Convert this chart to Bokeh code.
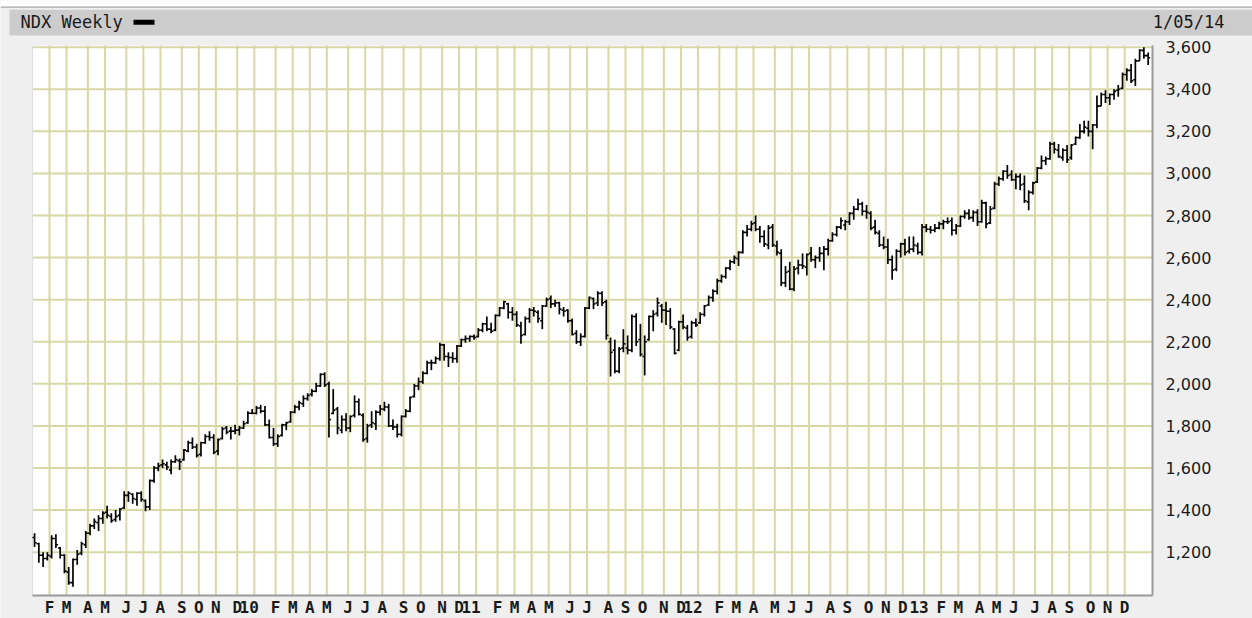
import pandas as pd
from bokeh.plotting import figure
from bokeh.models import Range1d, ColumnDataSource
from bokeh.embed import file_html
from bokeh.resources import INLINE
from bokeh.core.properties import value

# ---------------- data: NDX weekly OHLC, week of 2009-01-05 onward ----------------
first_week = "2009-01-05"

opens = [
    1270, 1240, 1185, 1170, 1180, 1265, 1220, 1185, 1105, 1055, 1165, 1195, 1235,
    1290, 1325, 1340, 1360, 1390, 1370, 1355, 1375, 1410, 1470, 1475, 1450, 1480,
    1445, 1415, 1540, 1600, 1615, 1615, 1590, 1630, 1635, 1640, 1680, 1720, 1700,
    1665, 1720, 1750, 1745, 1680, 1740, 1790, 1775, 1775, 1780, 1790, 1815, 1860,
    1860, 1885, 1870, 1805, 1745, 1715, 1755, 1805, 1820, 1865, 1890, 1905, 1930,
    1950, 1965, 1990, 2045, 2000, 1860, 1880, 1780, 1830, 1790, 1850, 1915, 1850,
    1740, 1805, 1810, 1865, 1880, 1890, 1800, 1795, 1760, 1845, 1870, 1940, 1990,
    2010, 2050, 2100, 2100, 2120, 2185, 2130, 2125, 2120, 2180, 2210, 2215, 2225,
    2225, 2255, 2285, 2260, 2255, 2325, 2360, 2380, 2340, 2330, 2275, 2235, 2310,
    2350, 2340, 2300, 2370, 2405, 2380, 2385, 2350, 2350, 2300, 2240, 2200, 2225,
    2360, 2405, 2385, 2430, 2390, 2200, 2160, 2060, 2170, 2170, 2160, 2320, 2210,
    2130, 2210, 2320, 2335, 2370, 2350, 2345, 2260, 2160, 2295, 2265, 2225, 2290,
    2290, 2330, 2375, 2410, 2440, 2490, 2510, 2550, 2580, 2595, 2625, 2720, 2735,
    2765, 2735, 2700, 2660, 2745, 2655, 2620, 2480, 2535, 2450, 2550, 2565, 2555,
    2620, 2590, 2600, 2620, 2640, 2680, 2710, 2745, 2755, 2770, 2810, 2830, 2855,
    2820, 2810, 2745, 2715, 2660, 2650, 2590, 2545, 2630, 2665, 2630, 2640, 2655,
    2625,
    2745, 2735, 2730, 2740, 2760, 2770, 2775, 2730, 2750, 2795, 2810, 2790, 2815,
    2770, 2860, 2765, 2835, 2950, 2975, 3010, 2995, 2970, 2985, 2950, 2865, 2910,
    2960, 3025, 3060, 3070, 3140, 3110, 3075, 3110, 3075, 3140, 3170, 3200, 3215,
    3200, 3230, 3320, 3375, 3360, 3375, 3395, 3405, 3470, 3490, 3445, 3535, 3585,
    3560,
]

highs = [
    1290, 1245, 1200, 1200, 1280, 1285, 1225, 1190, 1130, 1170, 1210, 1250, 1300,
    1335, 1360, 1375, 1395, 1420, 1385, 1400, 1410, 1490, 1490, 1480, 1485, 1490,
    1450, 1545, 1610, 1625, 1640, 1630, 1640, 1660, 1645, 1690, 1730, 1745, 1715,
    1725, 1760, 1775, 1760, 1740, 1795, 1800, 1795, 1805, 1800, 1825, 1870, 1880,
    1895, 1900, 1895, 1830, 1790, 1760, 1810, 1820, 1870, 1900, 1920, 1945, 1955,
    1975, 2005, 2050, 2055, 2010, 1975, 1890, 1850, 1860, 1850, 1945, 1930, 1860,
    1810, 1870, 1875, 1900, 1915, 1905, 1830, 1810, 1850, 1880, 1940, 2000, 2030,
    2060, 2110, 2115, 2130, 2195, 2190, 2150, 2150, 2185, 2215, 2230, 2230, 2235,
    2265, 2290, 2320, 2290, 2330, 2365, 2395, 2385, 2365, 2345, 2295, 2320, 2360,
    2365, 2350, 2375, 2410, 2420, 2400, 2390, 2365, 2355, 2310, 2255, 2240, 2365,
    2415, 2410, 2440, 2440, 2400, 2220, 2210, 2175, 2260, 2230, 2330, 2335, 2285,
    2230, 2325, 2350, 2410, 2380, 2390, 2360, 2265, 2300, 2330, 2280, 2300, 2310,
    2340, 2375, 2420, 2450, 2500, 2520, 2555, 2590, 2610, 2630, 2730, 2755, 2775,
    2800, 2750, 2730, 2755, 2760, 2680, 2640, 2560, 2580, 2560, 2590, 2620, 2620,
    2650, 2610, 2650, 2655, 2690, 2720, 2750, 2790, 2780, 2815, 2845, 2880, 2865,
    2850, 2820, 2780, 2730, 2700, 2690, 2610, 2640, 2670, 2690, 2700, 2700, 2670,
    2760,
    2760, 2750, 2760, 2770, 2780, 2790, 2790, 2760, 2800, 2825, 2830, 2825, 2830,
    2875, 2865, 2845, 2960, 2985, 3015, 3040, 3015, 3000, 3000, 2990, 2920, 2960,
    3030, 3085, 3080, 3150, 3150, 3140, 3120, 3135, 3140, 3175, 3235, 3250, 3250,
    3235, 3370, 3385, 3395, 3380, 3400, 3420, 3480, 3500, 3520, 3545, 3590, 3600,
    3575,
]

lows = [
    1225, 1150, 1130, 1160, 1170, 1220, 1170, 1100, 1045, 1035, 1140, 1185, 1220,
    1280, 1310, 1300, 1335, 1360, 1340, 1345, 1350, 1405, 1440, 1430, 1420, 1440,
    1395, 1400, 1530, 1585, 1600, 1590, 1570, 1625, 1590, 1635, 1675, 1690, 1650,
    1655, 1715, 1730, 1665, 1660, 1735, 1760, 1735, 1760, 1755, 1785, 1810, 1855,
    1855, 1860, 1800, 1740, 1705, 1700, 1750, 1780, 1815, 1860, 1875, 1890, 1920,
    1940, 1960, 1985, 1985, 1745, 1855, 1760, 1765, 1775, 1770, 1840, 1850, 1725,
    1720, 1790, 1780, 1850, 1870, 1795, 1780, 1745, 1750, 1840, 1865, 1935, 1970,
    2000, 2045, 2065, 2095, 2110, 2110, 2080, 2100, 2100, 2175, 2195, 2200, 2210,
    2220, 2245, 2250, 2240, 2250, 2320, 2355, 2310, 2300, 2270, 2190, 2230, 2290,
    2320, 2290, 2260, 2365, 2360, 2365, 2330, 2320, 2290, 2230, 2190, 2180, 2220,
    2355, 2355, 2370, 2370, 2210, 2035, 2050, 2050, 2150, 2140, 2150, 2180, 2130,
    2040, 2205, 2250, 2320, 2290, 2280, 2260, 2140, 2155, 2260, 2205, 2215, 2270,
    2285, 2320, 2370, 2390, 2425, 2480, 2500, 2540, 2570, 2560, 2620, 2700, 2725,
    2725, 2670, 2650, 2640, 2650, 2610, 2465, 2460, 2445, 2440, 2520, 2545, 2515,
    2580, 2550, 2580, 2540, 2610, 2675, 2700, 2735, 2730, 2755, 2780, 2825, 2800,
    2785, 2730, 2710, 2650, 2640, 2570, 2495, 2535, 2600, 2610, 2620, 2625, 2615,
    2610,
    2720, 2715, 2720, 2735, 2735, 2760, 2705, 2710, 2745, 2785, 2780, 2770, 2750,
    2765, 2740, 2760, 2830, 2940, 2965, 2975, 2965, 2925, 2920, 2860, 2825, 2900,
    2955, 3020, 3040, 3065, 3095, 3075, 3060, 3050, 3065, 3135, 3165, 3190, 3175,
    3115, 3215, 3320, 3335, 3325, 3350, 3365, 3400, 3440, 3430, 3415, 3535, 3545,
    3515,
]

closes = [
    1245, 1185, 1170, 1185, 1265, 1235, 1185, 1110, 1055, 1165, 1190, 1240, 1290,
    1325, 1345, 1360, 1385, 1375, 1350, 1370, 1405, 1470, 1480, 1455, 1480, 1450,
    1415, 1540, 1600, 1610, 1620, 1605, 1630, 1640, 1630, 1685, 1720, 1700, 1660,
    1720, 1750, 1745, 1675, 1735, 1785, 1770, 1775, 1780, 1790, 1810, 1860, 1860,
    1885, 1870, 1805, 1745, 1715, 1750, 1805, 1815, 1865, 1890, 1910, 1930, 1945,
    1965, 1990, 2045, 1995, 1830, 1875, 1790, 1830, 1790, 1845, 1915, 1855, 1735,
    1800, 1815, 1865, 1880, 1890, 1800, 1795, 1760, 1845, 1870, 1935, 1990, 2010,
    2050, 2100, 2100, 2120, 2185, 2130, 2125, 2120, 2180, 2210, 2215, 2225, 2220,
    2255, 2285, 2260, 2250, 2325, 2360, 2390, 2340, 2330, 2280, 2230, 2310, 2350,
    2345, 2310, 2370, 2400, 2380, 2385, 2355, 2345, 2300, 2235, 2200, 2225, 2360,
    2410, 2380, 2430, 2385, 2230, 2150, 2060, 2165, 2190, 2160, 2320, 2200, 2140,
    2200, 2320, 2330, 2385, 2350, 2345, 2270, 2145, 2295, 2270, 2220, 2290, 2280,
    2330, 2370, 2410, 2440, 2490, 2510, 2550, 2580, 2600, 2625, 2720, 2735, 2760,
    2735, 2700, 2665, 2740, 2660, 2625, 2480, 2530, 2450, 2545, 2565, 2560, 2615,
    2590, 2600, 2620, 2640, 2680, 2710, 2745, 2775, 2770, 2810, 2830, 2855, 2820,
    2815, 2740, 2720, 2660, 2650, 2590, 2540, 2630, 2665, 2625, 2640, 2660, 2625,
    2745,
    2735, 2730, 2740, 2760, 2770, 2770, 2730, 2750, 2795, 2810, 2790, 2815, 2770,
    2860, 2760, 2830, 2950, 2975, 3010, 2990, 2970, 2985, 2945, 2870, 2910, 2955,
    3025, 3060, 3070, 3140, 3115, 3080, 3110, 3065, 3135, 3170, 3200, 3220, 3200,
    3230, 3320, 3375, 3360, 3375, 3390, 3400, 3470, 3490, 3440, 3535, 3585, 3560,
    3550,
]

y_ticks = [1200, 1400, 1600, 1800, 2000, 2200, 2400, 2600, 2800, 3000, 3200, 3400, 3600]
month_letters = ["J", "F", "M", "A", "M", "J", "J", "A", "S", "O", "N", "D"]
first_grid_month = "2009-02-01"
last_grid_month = "2013-12-01"
title_text = "NDX Weekly"
date_text = "1/05/14"

# ---------------- layout constants (pixels) ----------------
W, H = 1252, 618
PLOT_L, PLOT_R, PLOT_T, PLOT_B = 32, 1152, 45, 595
X_MIN, X_MAX = -0.485, 262.02      # week index shown across the plot box
Y_MIN, Y_MAX = 994.0, 3608.0       # price shown across the plot box

sx = (PLOT_R - PLOT_L) / (X_MAX - X_MIN)
sy = (PLOT_B - PLOT_T) / (Y_MAX - Y_MIN)
x_start = X_MIN - PLOT_L / sx
x_end = X_MAX + (W - PLOT_R) / sx
y_top = Y_MAX + PLOT_T / sy
y_bot = Y_MIN - (H - PLOT_B) / sy


def dx(px):
    return x_start + px / sx


def dy(py):
    return y_top - py / sy


# ---------------- derived data ----------------
n = len(closes)
weeks = pd.date_range(first_week, periods=n, freq="7D")
xs = list(range(n))
src = ColumnDataSource(dict(
    x=xs,
    xl=[i - 0.5 for i in xs],
    xr=[i + 0.5 for i in xs],
    o=opens, h=highs, l=lows, c=closes,
))

month_starts = pd.date_range(first_grid_month, last_grid_month, freq="MS")
grid_x, m_x, m_lab, yr_x, yr_lab = [], [], [], [], []
for m in month_starts:
    gx = (m - weeks[0]).days // 7 + 0.5
    grid_x.append(gx)
    if m.month == 1:
        yr_x.append(gx)
        yr_lab.append("%02d" % (m.year % 100))
    else:
        m_x.append(gx)
        m_lab.append(month_letters[m.month - 1])

GRID = "#d8d8a6"
BORDER = "#9a9a9a"
TXT = "#1a1a1a"

p = figure(width=W, height=H, x_range=Range1d(x_start, x_end), y_range=Range1d(y_bot, y_top),
           x_axis_type=None, y_axis_type=None, toolbar_location=None, output_backend="svg",
           min_border=0, background_fill_color="#efefef", border_fill_color="#efefef",
           outline_line_color=None)
p.grid.visible = False

# page chrome: white top strip, rule, header band
p.quad(left=[dx(0)], right=[dx(W)], top=[dy(0)], bottom=[dy(6)], color="white", line_color=None)
p.quad(left=[dx(0)], right=[dx(W)], top=[dy(6)], bottom=[dy(7.3)], color="#a8a8a8", line_color=None)
p.quad(left=[dx(9)], right=[dx(W)], top=[dy(9.3)], bottom=[dy(35)], color="#cccccc", line_color=None)
p.text(x=[dx(20)], y=[dy(21.5)], text=[title_text], text_font=value("DejaVu Sans Mono"),
       text_font_size="17px", text_baseline="middle", text_align="left", text_color=TXT)
p.quad(left=[dx(133)], right=[dx(154)], top=[dy(19.3)], bottom=[dy(24.3)], color="black", line_color=None)
p.text(x=[dx(1224)], y=[dy(21.5)], text=[date_text], text_font=value("DejaVu Sans Mono"),
       text_font_size="17px", text_baseline="middle", text_align="right", text_color=TXT)

# plot box
p.quad(left=[X_MIN], right=[X_MAX], bottom=[Y_MIN], top=[Y_MAX], color="white", line_color=None)
p.segment(x0=grid_x, y0=[Y_MIN] * len(grid_x), x1=grid_x, y1=[Y_MAX] * len(grid_x),
          line_color=GRID, line_width=2)
p.segment(x0=[X_MIN] * len(y_ticks), y0=y_ticks, x1=[X_MAX] * len(y_ticks), y1=y_ticks,
          line_color=GRID, line_width=2)
p.segment(x0=[X_MIN], y0=[Y_MAX], x1=[X_MIN], y1=[Y_MIN], line_color="#dedede", line_width=1)
p.segment(x0=[X_MAX], y0=[Y_MAX], x1=[X_MAX], y1=[Y_MIN], line_color=BORDER, line_width=2)
p.segment(x0=[X_MIN], y0=[Y_MIN], x1=[X_MAX], y1=[Y_MIN], line_color=BORDER, line_width=2)

# OHLC bars
p.segment(x0="x", y0="l", x1="x", y1="h", source=src, line_color="black", line_width=1.7)
p.segment(x0="xl", y0="o", x1="x", y1="o", source=src, line_color="black", line_width=1.6)
p.segment(x0="x", y0="c", x1="xr", y1="c", source=src, line_color="black", line_width=1.6)

# price labels (right)
p.text(x=[dx(1165)] * len(y_ticks), y=y_ticks, text=["{:,}".format(v) for v in y_ticks],
       text_font=value("DejaVu Sans"), text_font_size="16px", text_baseline="middle",
       text_align="left", text_color=TXT)

# month / year labels (bottom)
lab_y = dy(606.5)
p.text(x=m_x, y=[lab_y] * len(m_x), text=m_lab, text_font=value("DejaVu Sans Mono"),
       text_font_size="16px", text_font_style="bold", text_baseline="middle",
       text_align="center", text_color=TXT)
p.text(x=yr_x, y=[lab_y] * len(yr_x), text=yr_lab, text_font=value("DejaVu Sans Mono"),
       text_font_size="16px", text_font_style="bold", text_baseline="middle",
       text_align="right", x_offset=4.5, text_color=TXT)

open("out.html", "w").write(file_html(p, INLINE))
